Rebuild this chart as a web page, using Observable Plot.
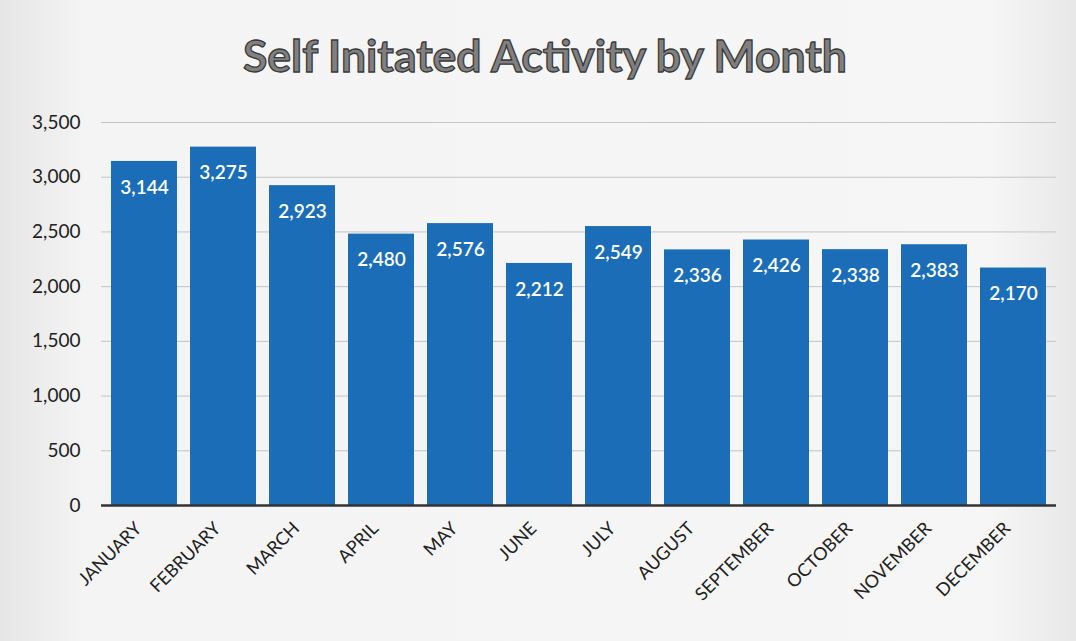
<!DOCTYPE html>
<html>
<head>
<meta charset="utf-8">
<script src="https://cdn.jsdelivr.net/npm/d3@7"></script>
<script src="https://cdn.jsdelivr.net/npm/@observablehq/plot@0.6"></script>
<style>
  html, body { margin: 0; padding: 0; background: #eeeeee; }
  #wrap { width: 1076px; height: 641px; position: relative; overflow: hidden;
          background: linear-gradient(90deg, #e6e6e6 0%, #f4f4f4 8%, #f6f6f6 92%, #e8e8e8 100%); }
  #title { position: absolute; left: 0; top: 28px; width: 1090px; text-align: center;
           font-family: Lato, "Open Sans", sans-serif; font-weight: 700; font-size: 44.5px;
           color: #808080; -webkit-text-stroke: 1.3px #3a3a3a; }
  #chart { position: absolute; left: 0; top: 100px; }
</style>
</head>
<body>
<div id="wrap">
  <div id="title">Self Initated Activity by Month</div>
  <div id="chart"></div>
</div>
<script>
const months = ["JANUARY","FEBRUARY","MARCH","APRIL","MAY","JUNE","JULY","AUGUST","SEPTEMBER","OCTOBER","NOVEMBER","DECEMBER"];
const values = [3144, 3275, 2923, 2480, 2576, 2212, 2549, 2336, 2426, 2338, 2383, 2170];
const yTicks = [0, 500, 1000, 1500, 2000, 2500, 3000, 3500];

const data = months.map((m, i) => ({month: m, value: values[i]}));
const fmt = d3.format(",");

const chart = Plot.plot({
  width: 1076,
  height: 541,
  marginTop: 22,
  marginBottom: 136,
  marginLeft: 101,
  marginRight: 20,
  style: {background: "transparent", fontFamily: "Lato, 'Open Sans', sans-serif"},
  x: {domain: months, paddingInner: 0.165, paddingOuter: 0.08, label: null},
  y: {domain: [0, 3500], ticks: yTicks, label: null},
  marks: [
    Plot.gridY(yTicks, {stroke: "#c4c4c4", strokeOpacity: 1, strokeWidth: 1}),
    Plot.barY(data, {x: "month", y: "value", fill: "#1a6db6"}),
    Plot.ruleY([0], {stroke: "#333", strokeWidth: 2.5}),
    Plot.text(data, {x: "month", y: "value", text: d => fmt(d.value), dy: 26,
      fill: "white", fontSize: 19, fontWeight: 600}),
    Plot.axisY(yTicks, {tickSize: 0, tickPadding: 21, tickFormat: fmt, fontSize: 19, fill: "#222"}),
    Plot.axisX({tickSize: 0, tickPadding: 20, dx: -6, tickRotate: -45, fontSize: 18, fill: "#222"})
  ]
});
document.getElementById("chart").appendChild(chart);
</script>
</body>
</html>
